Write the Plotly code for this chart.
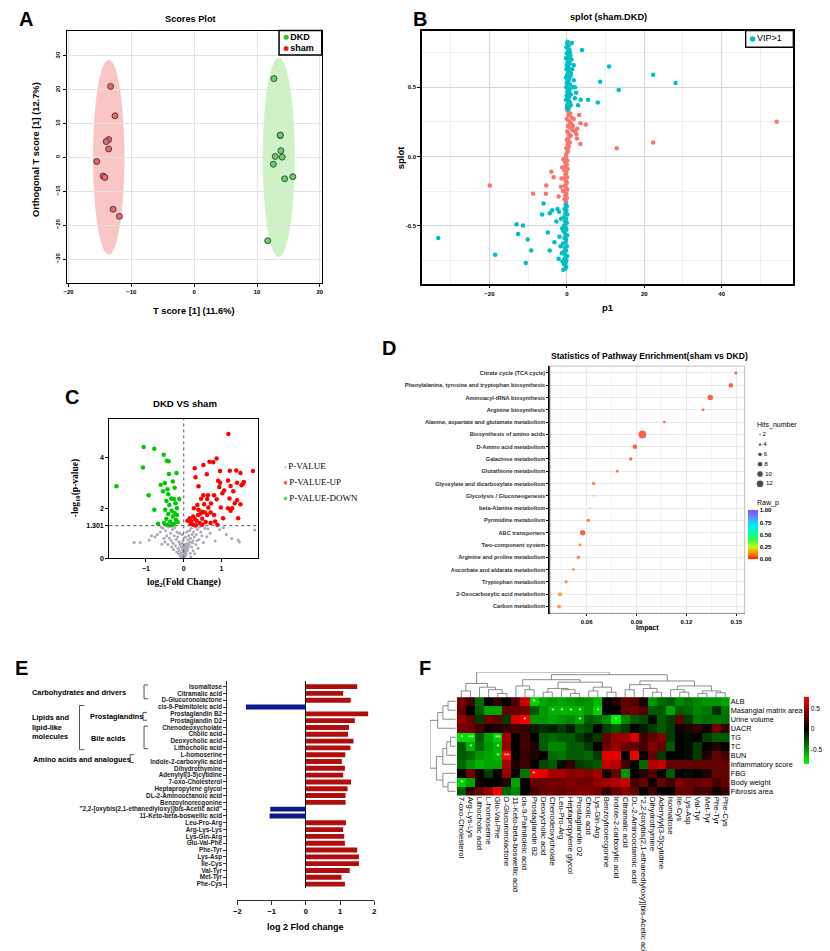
import plotly.graph_objects as go

W, H = 830, 951
def X(px):
    return px / W
def Y(py):
    return 1 - py / H

SANS = "Liberation Sans"
SERIF = "Liberation Serif"

# ================= DATA =================
# ---- A: OPLS-DA scores plot
sham_t = [-13.3, -12.6, -13.6, -14.0, -13.6, -15.5, -14.5, -14.2, -12.9, -11.9]
sham_o = [21.0, 12.3, 5.3, 4.7, 2.5, -1.2, -5.5, -5.9, -15.3, -17.4]
dkd_t = [12.7, 13.7, 13.7, 13.8, 12.9, 14.0, 12.6, 14.4, 15.7, 11.7]
dkd_o = [23.3, 6.5, 6.6, 2.0, 0.3, 0.1, -2.0, -6.3, -5.7, -24.6]
# confidence ellipse extents: t_min, t_max, o_min, o_max
sham_ellipse = [-16.1, -11.1, -28.7, 28.9]
dkd_ellipse = [10.9, 16.0, -29.4, 29.5]
groups_A = ["DKD", "sham"]

# ---- B: S-plot
vip_col_top_x = [0.1, 0.5, -0.1, 0.7, 0.3, 0.0, 0.9, 0.4, -0.2, 0.6, 0.2, 0.8, 0.0, 0.4, -0.1,
                 0.7, 0.3, 0.5, 0.1, 0.9, -0.2, 0.6, 0.2, 0.4, 0.0, 0.8, 0.3, -0.1, 0.5, 0.7,
                 0.1, 0.4, 0.9, 0.0, 0.6, 0.2, -0.2, 0.5, 0.8, 0.3, 0.1, 0.6, 0.0, 0.4]
vip_col_top_y = [0.82, 0.80, 0.79, 0.77, 0.76, 0.745, 0.73, 0.72, 0.71, 0.695, 0.68, 0.67, 0.66, 0.645, 0.63,
                 0.62, 0.61, 0.60, 0.59, 0.58, 0.57, 0.56, 0.55, 0.54, 0.53, 0.52, 0.51, 0.50, 0.49, 0.48,
                 0.47, 0.46, 0.45, 0.44, 0.43, 0.42, 0.41, 0.40, 0.39, 0.38, 0.37, 0.36, 0.35, 0.34]
vip_out_top_x = [0.2, 1.3, 3.9, 10.9, 22.3, 8.6, 28.1, 13.4, 1.8, 1.8, 1.5, 2.1, 2.4, 2.1, 3.6, 5.5,
                 8.0, 2.9, 1.0, 1.2, 0.8, 1.1, 1.4, 1.0]
vip_out_top_y = [0.83, 0.82, 0.77, 0.65, 0.59, 0.54, 0.53, 0.48, 0.66, 0.55, 0.50, 0.50, 0.46, 0.42, 0.41, 0.41,
                 0.39, 0.37, 0.37, 0.70, 0.75, 0.60, 0.63, 0.45]
vip_col_bot_x = [-0.3, 0.0, -0.6, -0.1, -0.4, 0.1, -0.8, -0.2, -0.5, 0.0, -0.7, -0.3, -0.1, -0.9, -0.4, 0.1,
                 -0.6, -0.2, -0.3, -1.0, 0.0, -0.5, -0.2, -0.8, -0.4, 0.1, -0.6, -0.1, -0.3, -0.7, -0.2, -0.4]
vip_col_bot_y = [-0.35, -0.36, -0.38, -0.39, -0.41, -0.42, -0.44, -0.45, -0.47, -0.48, -0.50, -0.51, -0.53, -0.54,
                 -0.56, -0.57, -0.59, -0.60, -0.62, -0.63, -0.65, -0.66, -0.68, -0.69, -0.71, -0.72, -0.74, -0.75,
                 -0.77, -0.78, -0.80, -0.81]
vip_out_bot_x = [-6.0, -6.4, -4.4, -3.8, -2.4, -2.7, -13.0, -11.3, -12.6, -4.9, -33.2, -10.1, -9.2, -18.5,
                 -10.6, -4.4, -3.2, -1.9, -2.1, -0.9, -1.5, -1.2, -1.6, -1.3, -2.0, -1.1]
vip_out_bot_y = [-0.34, -0.42, -0.41, -0.39, -0.38, -0.47, -0.49, -0.50, -0.56, -0.55, -0.59, -0.60, -0.68, -0.71,
                 -0.77, -0.68, -0.62, -0.58, -0.74, -0.82, -0.45, -0.52, -0.65, -0.70, -0.40, -0.76]
low_col_x = [0.2, 0.9, 0.5, 1.3, 0.0, 0.7, 1.1, 0.3, 0.8, 1.5, 0.1, 0.6, 1.0, 0.4, 0.0, 0.8, 0.2, 0.5, -0.1, 0.3,
             0.1, -0.2, -0.2, 0.1, -0.5, 0.0, -0.3, 0.2, -0.6, -0.1, -0.4, 0.1, -0.7, -0.2, 0.0, -0.5, -0.3, 0.1,
             -0.8, -0.1, -0.4, 0.0, -0.6, -0.2]
low_col_y = [0.33, 0.31, 0.30, 0.28, 0.27, 0.25, 0.24, 0.22, 0.21, 0.19, 0.18, 0.16, 0.15, 0.13, 0.12, 0.10, 0.09,
             0.07, 0.06, 0.04, 0.03, 0.01, -0.01, -0.03, -0.04, -0.06, -0.07, -0.09, -0.10, -0.12, -0.13, -0.15,
             -0.16, -0.18, -0.19, -0.21, -0.22, -0.24, -0.25, -0.27, -0.28, -0.30, -0.31, -0.33]
low_out_x = [3.2, 4.9, 3.5, 54.2, 22.3, 12.9, 3.5, 2.6, 2.5, 2.1, 2.7, 1.8, 1.6, -0.9, -4.0, -3.4, -19.9, -5.3,
             -5.4, -8.7, -1.4, -1.5, -2.1, -1.2, -1.0]
low_out_y = [0.30, 0.23, 0.24, 0.25, 0.10, 0.06, 0.09, 0.13, 0.16, 0.18, 0.20, 0.27, 0.22, -0.02, -0.11, -0.15,
             -0.21, -0.21, -0.27, -0.27, -0.16, -0.22, -0.29, -0.08, -0.25]

# ---- C: volcano plot
up_fc = [1.18, 0.87, 0.68, 0.78, 0.52, 0.29, 1.83, 1.39, 1.22, 0.96, 0.61, 1.50, 0.31, 1.17, 0.91, 0.96, 1.59,
         1.57, 1.53, 1.41, 1.24, 0.94, 0.39, 1.31, 1.07, 0.52, 0.64, 0.80, 1.02, 1.21, 1.41, 0.46, 0.62, 0.87,
         1.35, 1.50, 0.54, 0.72, 0.36, 0.27, 0.39, 0.65, 0.98, 1.17, 1.28, 1.24, 0.49, 0.56, 0.71, 0.45, 0.38,
         0.62, 0.80, 0.25, 0.16, 0.29, 0.49, 1.04, 1.44, 0.34, 0.20, 0.42, 0.58, 0.71, 0.83, 0.25, 0.32, 0.49,
         0.10, 0.18, 0.89]
up_p = [4.95, 3.97, 3.84, 3.82, 3.71, 3.58, 3.47, 3.49, 3.48, 3.47, 3.35, 3.40, 3.23, 3.10, 3.09, 3.01, 3.04,
        2.97, 2.91, 3.01, 2.88, 2.84, 2.87, 2.67, 2.70, 2.51, 2.51, 2.51, 2.59, 2.38, 2.31, 2.37, 2.36, 2.35,
        2.19, 2.15, 2.15, 2.18, 2.12, 1.99, 1.93, 2.02, 2.02, 1.99, 1.99, 1.89, 1.85, 1.82, 1.82, 1.78, 1.73,
        1.73, 1.73, 1.67, 1.60, 1.58, 1.58, 1.60, 1.60, 1.50, 1.47, 1.41, 1.45, 1.41, 1.47, 1.34, 1.32, 1.34,
        1.50, 1.37, 1.34]
down_fc = [-1.06, -0.78, -0.53, -0.45, -0.40, -1.08, -1.78, -0.93, -0.78, -0.68, -0.19, -0.39, -0.61, -0.50,
           -0.29, -0.24, -0.43, -0.55, -0.41, -0.33, -0.26, -0.46, -0.38, -0.22, -0.49, -0.32, -0.18, -0.41,
           -0.29, -0.46, -0.21, -0.36, -0.26, -0.52, -0.16, -0.43, -0.18, -0.31, -0.24, -0.12]
down_p = [4.43, 4.36, 4.12, 3.88, 3.86, 3.61, 2.87, 2.51, 1.93, 1.38, 3.40, 3.36, 2.93, 3.00, 3.06, 2.81, 2.75,
          2.67, 2.55, 2.38, 2.36, 2.28, 2.12, 2.19, 1.93, 1.89, 1.99, 1.76, 1.67, 1.58, 1.54, 1.47, 1.38, 1.41,
          1.45, 1.34, 1.73, 1.32, 1.80, 2.36]
ns_fc = [-1.31, -1.15, -0.92, -0.76, -0.58, -0.62, -0.70, -0.55, -0.48, -0.45, -0.40, -0.38, -0.35, -0.33,
         -0.30, -0.28, -0.25, -0.22, -0.20, -0.18, -0.15, -0.13, -0.12, -0.10, -0.08, -0.07, -0.05, -0.04, -0.03,
         -0.02, -0.01, 0.00, 0.01, 0.02, 0.03, 0.04, 0.05, 0.06, 0.07, 0.08, 0.09, 0.10, 0.11, 0.12, 0.13, 0.14,
         0.15, 0.16, 0.18, 0.20, 0.22, 0.24, 0.26, 0.28, 0.30, 0.33, 0.36, 0.40, 0.45, 0.52, 0.61, 0.83, 1.13,
         1.27, 1.44, 1.47, 1.88, -0.50, -0.42, -0.36, -0.27, -0.19, -0.09, -0.06, 0.17, 0.21, 0.25, 0.32, 0.38,
         0.48, 0.56, 0.70, 0.95, -0.60, -0.32, -0.16, -0.11, 0.19, 0.23, 0.29, -0.24, -0.14, 0.35, 0.42, 0.64,
         1.05, -0.85, -0.52, 0.00, 0.02, -0.02, 0.05, -0.04, 0.08, 0.01, -0.01]
ns_p = [0.63, 0.63, 0.73, 0.85, 0.56, 1.05, 0.95, 1.20, 1.10, 0.90, 1.25, 0.80, 1.00, 0.70, 1.15, 0.60, 0.90,
        0.50, 0.75, 1.05, 0.40, 0.65, 0.30, 0.55, 0.20, 0.45, 0.10, 0.35, 0.05, 0.25, 0.15, 0.02, 0.12, 0.30,
        0.08, 0.22, 0.40, 0.15, 0.50, 0.28, 0.60, 0.35, 0.75, 0.45, 0.90, 0.55, 1.10, 0.65, 0.80, 1.20, 0.95,
        0.70, 1.05, 0.85, 1.25, 0.95, 1.15, 0.75, 1.05, 0.63, 0.86, 0.69, 0.95, 0.79, 0.73, 0.65, 1.13, 0.65,
        0.55, 1.28, 0.35, 0.25, 0.08, 0.60, 0.20, 0.45, 0.30, 0.55, 0.40, 0.90, 1.20, 1.00, 1.15, 1.25, 0.45,
        0.85, 1.00, 0.05, 0.62, 0.18, 1.22, 0.18, 0.70, 1.25, 1.18, 1.22, 0.90, 0.80, 0.40, 0.55, 0.70, 0.85,
        0.95, 1.05, 0.25, 0.48]
p_threshold = 1.301
volcano_groups = ["P-VALUE", "P-VALUE-UP", "P-VALUE-DOWN"]

# ---- D: pathway enrichment
pathways = ["Citrate cycle (TCA cycle)", "Phenylalanine, tyrosine and tryptophan biosynthesis",
            "Aminoacyl-tRNA biosynthesis", "Arginine biosynthesis",
            "Alanine, aspartate and glutamate metabolism", "Biosynthesis of amino acids",
            "D-Amino acid metabolism", "Galactose metabolism", "Glutathione metabolism",
            "Glyoxylate and dicarboxylate metabolism", "Glycolysis / Gluconeogenesis",
            "beta-Alanine metabolism", "Pyrimidine metabolism", "ABC transporters",
            "Two-component system", "Arginine and proline metabolism",
            "Ascorbate and aldarate metabolism", "Tryptophan metabolism",
            "2-Oxocarboxylic acid metabolism", "Carbon metabolism"]
impact = [0.1497, 0.1467, 0.1343, 0.1300, 0.1067, 0.0935, 0.0890, 0.0865, 0.0784, 0.0642,
          0.0644, 0.0620, 0.0610, 0.0576, 0.0560, 0.0550, 0.0520, 0.0477, 0.0440, 0.0434]
hits = [3, 6, 8, 3, 3, 12, 6, 4, 3, 4, 1, 1, 4, 8, 3, 4, 3, 4, 5, 5]
raw_p = [0.01, 0.005, 0.001, 0.02, 0.03, 0.001, 0.003, 0.02, 0.04, 0.06,
         0.13, 0.12, 0.04, 0.008, 0.07, 0.06, 0.09, 0.09, 0.10, 0.10]
hits_legend = [2, 4, 6, 8, 10, 12]
rawp_ticks = [0, 0.25, 0.5, 0.75, 1.0]

# ---- E: log2 fold change
metabolites = ["Isomaltose", "Citramalic acid", "D-Glucuronolactone", "cis-9-Palmitoleic acid",
               "Prostaglandin B2", "Prostaglandin D2", "Chenodeoxycholate", "Cholic acid",
               "Deoxycholic acid", "Lithocholic acid", "L-homoserine", "Indole-2-carboxylic acid",
               "Dihydrothymine", "Adenylyl(3-5)cytidine", "7-oxo-Cholesterol", "Heptapropylene glycol",
               "DL-2-Aminooctanoic acid", "Benzoylnorecgonine",
               "\"2,2-[oxybis(2,1-ethanediyloxy)]bis-Acetic acid\"", "11-Keto-beta-boswellic acid",
               "Leu-Pro-Arg", "Arg-Lys-Lys", "Lys-Gln-Arg", "Glu-Val-Phe", "Phe-Tyr", "Lys-Asp",
               "Ile-Cys", "Val-Tyr", "Met-Tyr", "Phe-Cys"]
log2fc = [1.50, 1.09, 1.31, -1.75, 1.82, 1.43, 1.26, 1.23, 1.39, 1.30, 1.15, 1.05, 1.14, 1.09, 1.32,
          1.22, 1.16, 1.16, -1.04, -1.06, 1.17, 1.09, 1.12, 1.14, 1.50, 1.55, 1.55, 1.28, 1.04, 1.14]
fc_ticks = [-2, -1, 0, 1, 2]

# ---- F: correlation heatmap
heat_cols = ["7-oxo-Cholesterol", "Arg-Lys-Lys", "Lithocholic acid", "L-homoserine", "Glu-Val-Phe",
             "D-Glucuronolactone", "11-Keto-beta-boswellic acid", "cis-9-Palmitoleic acid",
             "Prostaglandin B2", "Deoxycholic acid", "Chenodeoxycholate", "Leu-Pro-Arg",
             "Heptapropylene glycol", "Prostaglandin D2", "Cholic acid", "Lys-Gln-Arg",
             "Benzoylnorecgonine", "Indole-2-carboxylic acid", "Citramalic acid",
             "DL-2-Aminooctanoic acid", "\"2,2-[oxybis(2,1-ethanediyloxy)]bis-Acetic acid\"",
             "Dihydrothymine", "Adenylyl(3-5)cytidine", "Isomaltose", "Ile-Cys", "Lys-Asp",
             "Val-Tyr", "Met-Tyr", "Phe-Tyr", "Phe-Cys"]
heat_rows = ["ALB", "Masangial matrix area", "Urine volume", "UACR", "TG", "TC", "BUN",
             "Inflammatory score", "FBG", "Body weight", "Fibrosis area"]
heat_alb = [0.35, 0.2, -0.35, 0.0, 0.15, 0.0, 0.25, 0.6, -0.7, -0.55, -0.5, -0.55, -0.5, -0.45, -0.5,
            -0.6, 0.0, 0.1, 0.3, 0.25, 0.05, -0.5, -0.35, -0.3, -0.45, -0.4, -0.45, -0.5, -0.5, -0.55]
heat_masangial = [0.3, 0.0, -0.3, -0.55, -0.55, 0.3, 0.3, 0.35, -0.3, -0.5, -0.6, -0.6, -0.6, -0.6, -0.5,
                  -0.7, 0.0, 0.0, 0.3, 0.35, 0.25, -0.3, -0.3, -0.55, -0.3, -0.35, -0.45, -0.4, -0.15, -0.4]
heat_urine = [0.45, 0.3, -0.2, 0.35, 0.3, -0.2, 0.65, 0.75, -0.5, -0.5, -0.55, -0.5, -0.45, -0.55, -0.3,
              -0.35, -0.45, -0.8, -0.45, -0.3, -0.25, -0.05, -0.3, -0.2, 0.3, -0.2, -0.4, -0.35, -0.4, -0.35]
heat_uacr = [0.35, 0.35, 0.2, 0.05, 0.1, 0.15, 0.2, 0.15, -0.1, -0.15, -0.1, -0.2, -0.1, -0.3, -0.25, 0.0,
             -0.2, -0.3, -0.2, 0.0, -0.1, -0.2, -0.3, -0.2, 0.05, 0.1, 0.15, 0.05, 0.35, 0.15]
heat_tg = [-0.75, -0.75, -0.3, -0.55, -0.7, 0.5, 0.0, 0.2, 0.0, -0.3, -0.35, -0.3, -0.3, -0.2, -0.1, -0.2,
           0.3, 0.45, 0.5, 0.65, 0.2, 0.3, 0.4, -0.2, 0.0, -0.05, 0.0, -0.2, -0.3, -0.3]
heat_tc = [-0.3, -0.6, -0.35, -0.5, -0.6, 0.45, 0.0, 0.2, 0.1, -0.3, -0.45, -0.45, -0.3, -0.3, -0.2, 0.0,
           0.3, 0.45, 0.35, 0.3, 0.2, 0.4, 0.3, -0.3, 0.0, -0.05, -0.2, 0.0, 0.1, 0.0]
heat_bun = [-0.3, -0.35, -0.5, -0.55, -0.6, 0.8, 0.0, 0.15, 0.1, 0.0, -0.35, -0.4, -0.3, -0.3, -0.35, -0.2,
            0.7, 0.7, 0.0, 0.75, 0.0, 0.3, -0.2, 0.0, 0.0, -0.05, -0.2, 0.1, 0.3, 0.2]
heat_inflam = [-0.35, -0.5, -0.6, -0.55, -0.55, 0.5, 0.1, 0.2, 0.0, -0.25, -0.3, -0.05, 0.15, -0.2, -0.25,
               -0.3, 0.6, 0.55, 0.2, 0.0, -0.35, 0.55, 0.6, 0.3, 0.3, 0.3, 0.3, 0.3, 0.3, 0.3]
heat_fbg = [0.0, 0.35, 0.05, -0.2, 0.0, 0.45, 0.0, -0.4, 0.75, 0.7, 0.5, 0.5, 0.4, 0.45, 0.4, 0.5, 0.05,
            0.3, -0.5, 0.0, 0.1, 0.25, 0.0, -0.3, 0.0, -0.05, 0.0, 0.1, 0.3, 0.3]
heat_bw = [-0.7, -0.55, 0.05, 0.0, 0.0, 0.1, -0.55, 0.0, 0.3, 0.3, 0.35, 0.35, 0.4, 0.35, 0.35, 0.45, 0.5,
           0.55, 0.6, 0.2, 0.3, 0.05, 0.3, 0.2, 0.4, 0.3, 0.3, 0.35, 0.2, 0.3]
heat_fibrosis = [-0.3, 0.15, 0.3, 0.45, 0.75, -0.35, -0.45, 0.0, 0.2, 0.3, 0.35, 0.3, 0.35, 0.4, 0.4, 0.35,
                 0.15, 0.3, 0.4, 0.3, 0.0, 0.2, 0.0, 0.0, 0.3, 0.3, 0.2, 0.2, 0.05, 0.15]
heat_vals = [heat_alb, heat_masangial, heat_urine, heat_uacr, heat_tg, heat_tc, heat_bun, heat_inflam,
             heat_fbg, heat_bw, heat_fibrosis]
# significance marks: (row, column, mark)
heat_stars = [(0, 8, "*"), (1, 10, "*"), (1, 11, "*"), (1, 12, "*"), (1, 13, "*"), (1, 15, "*"),
              (2, 7, "*"), (2, 13, "*"), (2, 17, "*"), (4, 0, "*"), (4, 1, "**"), (4, 4, "**"),
              (5, 1, "*"), (5, 4, "*"), (6, 4, "*"), (6, 5, "**"), (8, 8, "*"), (9, 0, "*")]
# hierarchical clustering trees: (merge height, left, right); leaves are indices
col_tree = (1.0,
            (0.55, (0.25, 0, 1), (0.4, 2, (0.3, 3, (0.15, 4, 5)))),
            (0.9,
             (0.7, (0.45, 6, (0.3, 7, 8)),
              (0.6, (0.35, (0.2, 9, 10), (0.3, 11, (0.15, 12, 13))), (0.4, (0.25, 14, 15), (0.2, 16, 17)))),
             (0.65, (0.5, (0.3, 18, 19), (0.35, 20, (0.2, 21, 22))),
              (0.45, (0.3, 23, (0.2, 24, 25)), (0.25, (0.15, 26, 27), (0.18, 28, 29))))))
row_tree = (1.0,
            (0.7, (0.5, (0.3, 0, 1), 2), 3),
            (0.75, (0.5, (0.35, (0.2, 4, 5), 6), 7), (0.5, 8, (0.3, 9, 10))))

# ================= FIGURE =================
fig = go.Figure()
shapes = []
annotations = []

def ann(text, x, y, size, family=SANS, bold=True, angle=0, xanchor='center', yanchor='middle',
        color='black', align='center'):
    annotations.append(dict(text=f"<b>{text}</b>" if bold else text, x=X(x), y=Y(y), xref='paper',
                            yref='paper', showarrow=False, xanchor=xanchor, yanchor=yanchor,
                            textangle=angle, align=align,
                            font=dict(family=family, size=size, color=color)))

def tf(size, bold=True, color='black', family=SANS):
    d = dict(family=family, size=size, color=color)
    if bold:
        d['weight'] = 'bold'
    return d

HID = dict(visible=False, fixedrange=True)

# ---------- A ----------
for ext, col in [(sham_ellipse, 'rgba(246,150,150,0.55)'), (dkd_ellipse, 'rgba(165,232,150,0.55)')]:
    shapes.append(dict(type='circle', xref='x', yref='y', x0=ext[0], x1=ext[1], y0=ext[2], y1=ext[3],
                       fillcolor=col, line=dict(width=0), layer='below'))
fig.add_trace(go.Scatter(x=sham_t, y=sham_o, mode='markers', xaxis='x', yaxis='y',
                         marker=dict(size=6, color='#e8696b', line=dict(color='#2a2a2a', width=0.8))))
fig.add_trace(go.Scatter(x=dkd_t, y=dkd_o, mode='markers', xaxis='x', yaxis='y',
                         marker=dict(size=6, color='#66d266', line=dict(color='#2a2a2a', width=0.8))))
# legend A
fig.add_trace(go.Scatter(x=[0, 0], y=groups_A, mode='markers+text', xaxis='x9', yaxis='y9',
                         text=groups_A, textposition='middle right', cliponaxis=False,
                         textfont=tf(9), marker=dict(size=5, color=['#22cc22', '#ff1a1a'])))
shapes.append(dict(type='rect', xref='x9 domain', yref='y9 domain', x0=0, x1=1, y0=0, y1=1,
                   line=dict(color='black', width=1.5), fillcolor='rgba(0,0,0,0)'))

# ---------- B ----------
fig.add_trace(go.Scatter(x=low_col_x + low_out_x, y=low_col_y + low_out_y, mode='markers',
                         xaxis='x2', yaxis='y2', marker=dict(size=4.5, color='#F8766D')))
fig.add_trace(go.Scatter(x=vip_col_top_x + vip_out_top_x + vip_col_bot_x + vip_out_bot_x,
                         y=vip_col_top_y + vip_out_top_y + vip_col_bot_y + vip_out_bot_y,
                         mode='markers', xaxis='x2', yaxis='y2', marker=dict(size=4.5, color='#00BFC4')))
fig.add_trace(go.Scatter(x=[0], y=["VIP>1"], mode='markers+text', xaxis='x12', yaxis='y12',
                         text=["VIP>1"], textposition='middle right', cliponaxis=False,
                         textfont=tf(9, bold=False), marker=dict(size=5.5, color='#00BFC4')))
shapes.append(dict(type='rect', xref='x12 domain', yref='y12 domain', x0=0, x1=1, y0=0, y1=1,
                   line=dict(color='black', width=1.3), fillcolor='rgba(0,0,0,0)'))

# ---------- C ----------
fig.add_trace(go.Scatter(x=ns_fc, y=ns_p, mode='markers', xaxis='x3', yaxis='y3',
                         marker=dict(size=3, color='#a9a9b8')))
fig.add_trace(go.Scatter(x=up_fc, y=up_p, mode='markers', xaxis='x3', yaxis='y3',
                         marker=dict(size=4.5, color='#ff0000')))
fig.add_trace(go.Scatter(x=down_fc, y=down_p, mode='markers', xaxis='x3', yaxis='y3',
                         marker=dict(size=4.5, color='#00c800')))
shapes.append(dict(type='line', xref='x3 domain', yref='y3', x0=0, x1=1, y0=p_threshold, y1=p_threshold,
                   line=dict(color='#555', width=1, dash='dot')))
shapes.append(dict(type='line', xref='x3', yref='y3 domain', x0=0, x1=0, y0=0, y1=1,
                   line=dict(color='#555', width=1, dash='dot')))
fig.add_trace(go.Scatter(x=[0, 0, 0], y=volcano_groups, mode='markers+text', xaxis='x10', yaxis='y10',
                         text=volcano_groups, textposition='middle right', cliponaxis=False,
                         textfont=tf(9, bold=False, family=SERIF),
                         marker=dict(size=[3, 4.5, 4.5], color=['#a9a9b8', '#ff0000', '#00c800'])))

# ---------- D ----------
def hit_size(h):
    return 1.2 + 0.55 * h

RAINBOW = [[0, '#ff2000'], [0.12, '#ff8c00'], [0.25, '#b4ff10'], [0.4, '#30ff50'], [0.55, '#00ffb0'],
           [0.7, '#00e8ff'], [0.85, '#5a90ff'], [1, '#8c46ff']]
fig.add_trace(go.Scatter(x=impact, y=pathways, mode='markers', xaxis='x4', yaxis='y4',
                         marker=dict(size=[hit_size(h) for h in hits], color=raw_p, colorscale=RAINBOW,
                                     cmin=0, cmax=1, line=dict(width=0),
                                     colorbar=dict(x=X(741), xanchor='left', xpad=0, y=Y(512),
                                                   yanchor='top', ypad=0, len=49, lenmode='pixels',
                                                   thickness=10, thicknessmode='pixels', outlinewidth=0,
                                                   tickvals=rawp_ticks,
                                                   ticktext=[f"{v:.2f}" for v in rawp_ticks],
                                                   ticks='', tickfont=tf(6)))))
fig.add_trace(go.Scatter(x=[0] * len(hits_legend), y=hits_legend, mode='markers+text', xaxis='x11',
                         yaxis='y11', text=[str(v) for v in hits_legend], textposition='middle right',
                         cliponaxis=False, textfont=tf(6, bold=False),
                         marker=dict(size=[hit_size(h) for h in hits_legend], color='black')))
shapes.append(dict(type='rect', xref='x4 domain', yref='y4 domain', x0=0, x1=1, y0=0, y1=1,
                   line=dict(color='#c0c0c0', width=1), fillcolor='rgba(0,0,0,0)'))

# ---------- E ----------
fig.add_trace(go.Bar(x=log2fc, y=metabolites, orientation='h', xaxis='x5', yaxis='y5',
                     marker=dict(color=['#b00d0d' if v > 0 else '#0d1a8c' for v in log2fc],
                                 line=dict(width=0)), width=0.72))

def bracket(x, y0, y1, w=4):
    shapes.append(dict(type='path', xref='paper', yref='paper',
                       path=f"M {X(x + w)},{Y(y0)} L {X(x)},{Y(y0)} L {X(x)},{Y(y1)} L {X(x + w)},{Y(y1)}",
                       line=dict(color='#555', width=1)))

bracket(133, 690, 704)
bracket(68, 711, 756, 5)
bracket(132, 718, 726)
bracket(133, 732, 755)
bracket(119, 761, 769)
ann("Carbohydrates and drivers", 18, 698, 7.4, xanchor='left')
ann("Lipids and<br>lipid-like<br>molecules", 18, 733, 7.4, xanchor='left', align='left')
ann("Prostaglandins", 77, 722, 7.4, xanchor='left')
ann("Bile acids", 78, 745, 7.4, xanchor='left')
ann("Amino acids and analogues", 19, 766, 7.4, xanchor='left')

# ---------- F ----------
star_text = [[" " for _ in heat_cols] for _ in heat_rows]
for r, c, m in heat_stars:
    star_text[r][c] = m
HEAT_SCALE = [[0, '#00ff00'], [0.52, '#000000'], [1, '#ff0000']]
fig.add_trace(go.Heatmap(z=heat_vals, x=list(range(len(heat_cols))), y=list(range(len(heat_rows))),
                         xaxis='x6', yaxis='y6', colorscale=HEAT_SCALE, zmin=-0.85, zmax=0.78,
                         text=star_text, texttemplate='%{text}', textfont=dict(color='white', size=7),
                         colorbar=dict(x=X(798), xanchor='left', xpad=0, y=Y(702), yanchor='top', ypad=0,
                                       len=67, lenmode='pixels', thickness=5, thicknessmode='pixels',
                                       outlinewidth=0, tickvals=[-0.5, 0, 0.5], ticktext=['-0.5', '0', '0.5'],
                                       ticks='', tickfont=tf(6.6, bold=False))))

def dendro(node, pos, hgt):
    if isinstance(node, int):
        return float(node), 0.0
    h, left, right = node
    pl, hl = dendro(left, pos, hgt)
    pr, hr = dendro(right, pos, hgt)
    pos += [pl, pl, pr, pr, None]
    hgt += [hl, h, h, hr, None]
    return (pl + pr) / 2, h

cp, ch = [], []
dendro(col_tree, cp, ch)
fig.add_trace(go.Scatter(x=cp, y=ch, mode='lines', xaxis='x7', yaxis='y7',
                         line=dict(color='#707070', width=0.8)))
rp, rh = [], []
dendro(row_tree, rp, rh)
fig.add_trace(go.Scatter(x=rh, y=rp, mode='lines', xaxis='x8', yaxis='y8',
                         line=dict(color='#707070', width=0.8)))

# ---------- titles / labels ----------
ann("A", 14, 11, 20)
ann("B", 411, 11, 20)
ann("C", 60, 397, 20)
ann("D", 380, 347, 20)
ann("E", 10, 673, 20)
ann("F", 416, 673, 20)
ann("Scores Plot", 180, 11, 9.2)
ann("T score [1] (11.6%)", 183, 309, 9.3)
ann("Orthogonal T score [1] (12.7%)", 24, 144, 9.3, angle=-90)
ann("splot (sham.DKD)", 601, 9, 9.2)
ann("p1", 600, 305, 9.5)
ann("splot", 391, 152, 9.5, angle=-90)
ann("DKD VS sham", 174, 403, 9.6)
ann("log<sub>2</sub>(Fold Change)", 173, 586, 9.5, family=SERIF)
ann("-log<sub>10</sub>(p-value)", 64, 490, 9.5, family=SERIF, angle=-90)
ann("Statistics of Pathway Enrichment(sham vs DKD)", 642, 355, 8.6)
ann("Impact", 640, 632, 7)
ann("Hits_number", 748, 425, 7, xanchor='left', bold=False)
ann("Raw_p", 748, 505, 7, xanchor='left', bold=False)
ann("log 2 Flod change", 296, 937, 9)

# ---------- axes ----------
frame = dict(showline=True, linecolor='black', mirror=True, zeroline=False, ticks='outside',
             tickcolor='black', ticklen=3)
layout_axes = dict(
    xaxis=dict(domain=[X(55), X(312)], anchor='y', range=[-20.3, 20.3], tickvals=[-20, -10, 0, 10, 20],
               showgrid=True, gridcolor='#e2e2e2', linewidth=1, tickfont=tf(6), **frame),
    yaxis=dict(domain=[Y(280), Y(23)], anchor='x', range=[-37, 37.5],
               tickvals=[-30, -20, -10, 0, 10, 20, 30], tickangle=-90,
               showgrid=True, gridcolor='#e2e2e2', linewidth=1, tickfont=tf(6), **frame),
    xaxis2=dict(domain=[X(413), X(787)], anchor='y2', range=[-37.4, 58.5], tickvals=[-20, 0, 20, 40],
                showgrid=True, gridcolor='#d6d6d6', linewidth=1.6, tickfont=tf(6),
                minor=dict(dtick=10, tick0=0, showgrid=True, gridcolor='#eeeeee'), **frame),
    yaxis2=dict(domain=[Y(281), Y(23)], anchor='x2', range=[-0.92, 0.91], tickvals=[-0.5, 0, 0.5],
                ticktext=['-0.5', '0.0', '0.5'], showgrid=True, gridcolor='#d6d6d6', linewidth=1.6,
                tickfont=tf(6), minor=dict(dtick=0.25, tick0=0, showgrid=True, gridcolor='#eeeeee'),
                **frame),
    xaxis3=dict(domain=[X(98), X(248)], anchor='y3', range=[-1.97, 1.97], tickvals=[-1, 0, 1],
                showgrid=False, linewidth=1.2, tickfont=tf(7), **frame),
    yaxis3=dict(domain=[Y(561), Y(419)], anchor='x3', range=[0, 5.54], tickvals=[0, p_threshold, 2, 4],
                ticktext=['0', '1.301', '2', '4'], showgrid=False, linewidth=1.2, tickfont=tf(7), **frame),
    xaxis4=dict(domain=[X(542), X(738)], anchor='y4', range=[0.038, 0.155],
                tickvals=[0.06, 0.09, 0.12, 0.15], ticktext=['0.06', '0.09', '0.12', '0.15'],
                showgrid=True, gridcolor='#e8e8e8', zeroline=False, showline=True, linecolor='black',
                linewidth=1.3, ticks='outside', ticklen=2, tickcolor='black', tickfont=tf(6),
                minor=dict(dtick=0.015, tick0=0.045, showgrid=True, gridcolor='#f3f3f3')),
    yaxis4=dict(domain=[Y(617), Y(365)], anchor='x4', type='category', categoryorder='array',
                categoryarray=pathways, tickmode='array', tickvals=pathways, ticktext=pathways,
                range=[19.56, -0.56], showgrid=True, gridcolor='#e8e8e8',
                zeroline=False, showline=True, linecolor='black', linewidth=1.5, ticks='outside',
                ticklen=2, tickcolor='black', tickfont=tf(5.6, color='#303030')),
    xaxis5=dict(domain=[X(227), X(365)], anchor='free', position=Y(909), range=[-2, 2], tickvals=fc_ticks,
                showgrid=False, zeroline=True, zerolinecolor='black', zerolinewidth=1.2, showline=True,
                linecolor='#333', linewidth=1.4, ticks='outside', ticklen=4, tickwidth=1.4,
                tickcolor='#333', tickfont=tf(7.5)),
    yaxis5=dict(domain=[Y(897), Y(686)], anchor='free', position=X(216), type='category',
                categoryorder='array', categoryarray=metabolites, tickmode='array', tickvals=metabolites,
                ticktext=metabolites, range=[29.58, -0.82], showgrid=False,
                zeroline=False, showline=True, linecolor='#333', linewidth=1.3, ticks='outside',
                ticklen=3, tickcolor='#333', tickfont=tf(6.3, color='#222')),
    xaxis6=dict(domain=[X(448), X(723)], anchor='y6', range=[-0.5, 29.5], tickmode='array',
                tickvals=list(range(len(heat_cols))),
                ticktext=heat_cols, tickangle=90, showgrid=False, zeroline=False, ticks='',
                tickfont=tf(7.8, bold=False)),
    yaxis6=dict(domain=[Y(803), Y(702)], anchor='x6', range=[10.5, -0.5], tickmode='array',
                tickvals=list(range(len(heat_rows))),
                ticktext=heat_rows, side='right', showgrid=False, zeroline=False, ticks='',
                tickfont=tf(7.3, bold=False)),
    xaxis7=dict(domain=[X(448), X(723)], anchor='y7', range=[-0.5, 29.5], **HID),
    yaxis7=dict(domain=[Y(702.5), Y(677)], anchor='x7', range=[0, 1.0], **HID),
    xaxis8=dict(domain=[X(421), X(447)], anchor='y8', range=[1.0, 0], **HID),
    yaxis8=dict(domain=[Y(803), Y(702)], anchor='x8', range=[10.5, -0.5], **HID),
    xaxis9=dict(domain=[X(269), X(312)], anchor='y9', range=[-0.2, 1], **HID),
    yaxis9=dict(domain=[Y(48), Y(23)], anchor='x9', type='category', range=[1.6, -0.6], **HID),
    xaxis10=dict(domain=[X(268), X(350)], anchor='y10', range=[-0.1, 1], **HID),
    yaxis10=dict(domain=[Y(508), Y(460)], anchor='x10', type='category', range=[2.5, -0.5], **HID),
    xaxis11=dict(domain=[X(748), X(790)], anchor='y11', range=[-0.15, 1], **HID),
    yaxis11=dict(domain=[Y(490), Y(430)], anchor='x11', range=[13, 1], **HID),
    xaxis12=dict(domain=[X(739), X(787)], anchor='y12', range=[-0.17, 1], **HID),
    yaxis12=dict(domain=[Y(40), Y(23)], anchor='x12', type='category', range=[0.6, -0.6], **HID),
)

fig.update_traces(hoverinfo='skip', showlegend=False)
fig.update_layout(width=W, height=H, margin=dict(l=0, r=0, t=0, b=0), paper_bgcolor='white',
                  plot_bgcolor='white', showlegend=False, shapes=shapes, annotations=annotations,
                  font=dict(family=SANS, color='black'), **layout_axes)
fig.write_html("out.html", config={'displayModeBar': False})
